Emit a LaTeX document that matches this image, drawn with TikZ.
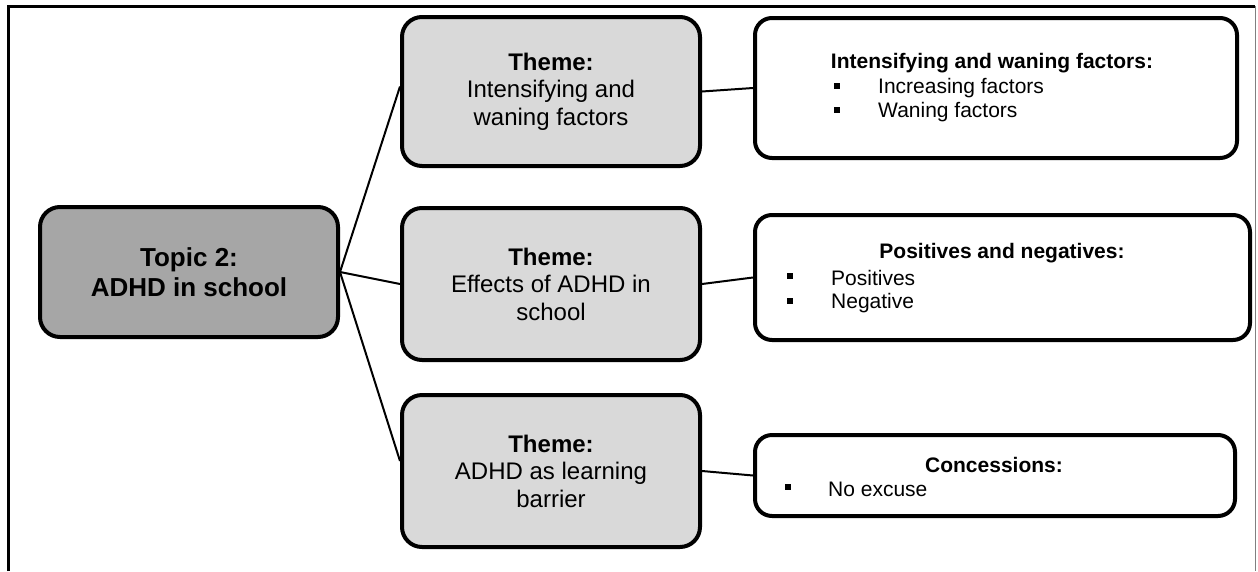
\documentclass[tikz,border=0pt]{standalone}
\usepackage{fontspec}
\setmainfont{Liberation Sans}
\begin{document}
\begin{tikzpicture}[x=1pt,y=-1pt,
  topicbox/.style={draw=black, line width=4pt, rounded corners=20pt, fill=topicgray,
    inner sep=0pt, align=center, font=\fontsize{26}{30}\selectfont\bfseries},
  themebox/.style={draw=black, line width=4pt, rounded corners=20pt, fill=themegray,
    inner sep=0pt, align=center, font=\fontsize{24}{27.5}\selectfont},
  catbox/.style={draw=black, line width=4pt, rounded corners=17pt, fill=white, inner sep=0pt},
  cattitle/.style={font=\fontsize{21}{24}\selectfont\bfseries, inner sep=0pt},
  catitem/.style={font=\fontsize{21}{24}\selectfont, inner sep=0pt, anchor=west},
  conn/.style={draw=black, line width=2pt},
]
\definecolor{topicgray}{HTML}{A6A6A6}
\definecolor{themegray}{HTML}{D9D9D9}
\newcommand{\sqbullet}{\rule[0.2em]{6pt}{6pt}}

\useasboundingbox (0,0) rectangle (1258,571);

% outer frame: heavy left and top rules, thin grey right rule
\draw[line width=3pt] (8.5,571) -- (8.5,6) -- (1255,6);
\draw[gray, line width=1pt] (1255,6) -- (1255,571);

% main topic
\node[topicbox, minimum width=298pt, minimum height=130pt] (topic) at (189,272)
  {Topic 2:\\ADHD in school};

% themes
\node[themebox, minimum width=298pt, minimum height=149pt] (t1) at (551,91.5)
  {\textbf{Theme:}\\Intensifying and\\waning factors};
\node[themebox, minimum width=298pt, minimum height=152pt] (t2) at (551,284)
  {\textbf{Theme:}\\Effects of ADHD in\\school};
\node[themebox, minimum width=298pt, minimum height=152pt] (t3) at (551,471)
  {\textbf{Theme:}\\ADHD as learning\\barrier};

% categories
\node[catbox, minimum width=482pt, minimum height=140pt] (c1) at (996,88) {};
\node[catbox, minimum width=495pt, minimum height=125pt] (c2) at (1002.5,277.5) {};
\node[catbox, minimum width=480pt, minimum height=81pt] (c3) at (995,475.5) {};

\node[cattitle] (c1h) at (992,63) {Intensifying and waning factors:};
\node[catitem] (c1b1) at ([xshift=81pt,yshift=0pt]c1.west |- 0,88) {\sqbullet};
\node[catitem] (c1i1) at ([xshift=125pt]c1.west |- 0,88) {Increasing factors};
\node[catitem] (c1b2) at ([xshift=81pt]c1.west |- 0,112) {\sqbullet};
\node[catitem] (c1i2) at ([xshift=125pt]c1.west |- 0,112) {Waning factors};

\node[cattitle] (c2h) at (1002,253) {Positives and negatives:};
\node[catitem] (c2b1) at ([xshift=34pt]c2.west |- 0,278) {\sqbullet};
\node[catitem] (c2i1) at ([xshift=78pt]c2.west |- 0,278) {Positives};
\node[catitem] (c2b2) at ([xshift=34pt]c2.west |- 0,303) {\sqbullet};
\node[catitem] (c2i2) at ([xshift=78pt]c2.west |- 0,303) {Negative};

\node[cattitle] (c3h) at (994,465) {Concessions:};
\node[catitem] (c3b1) at ([xshift=32pt]c3.west |- 0,489) {\sqbullet};
\node[catitem] (c3i1) at ([xshift=75pt]c3.west |- 0,489) {No excuse};

% connectors
\draw[conn] (topic.east) -- ([yshift=5pt]t1.west);
\draw[conn] (topic.east) -- (t2.west);
\draw[conn] (topic.east) -- ([yshift=10pt]t3.west);
\draw[conn] (t1.east) -- (c1.west);
\draw[conn] (t2.east) -- (c2.west);
\draw[conn] (t3.east) -- (c3.west);
\end{tikzpicture}
\end{document}
